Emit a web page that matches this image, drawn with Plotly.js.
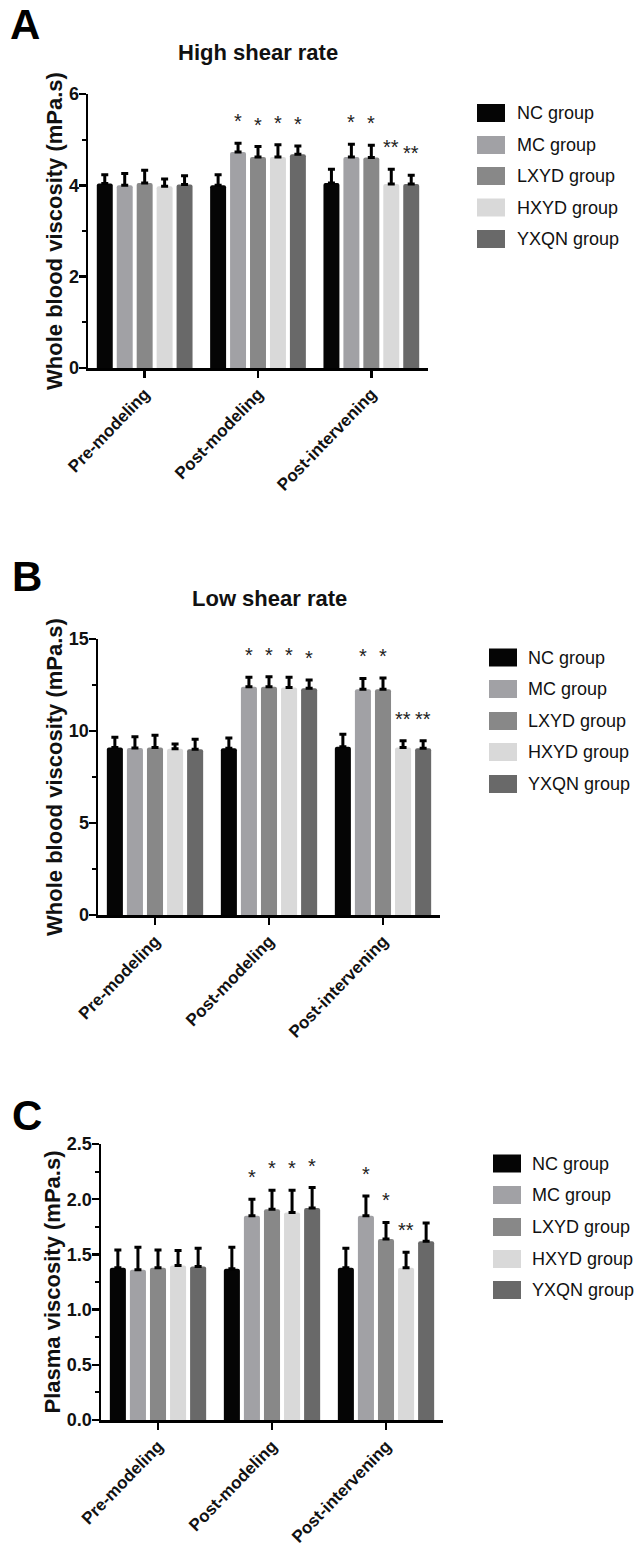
<!DOCTYPE html>
<html>
<head>
<meta charset="utf-8">
<script src="https://cdn.plot.ly/plotly-3.0.1.min.js"></script>
<style>html,body{margin:0;padding:0;background:#fff;}#chart{width:636px;height:1555px;}</style>
</head>
<body>
<div id="chart"></div>
<script>
// ---------- DATA ----------
const categories = ['Pre-modeling', 'Post-modeling', 'Post-intervening'];
const groups = ['NC group', 'MC group', 'LXYD group', 'HXYD group', 'YXQN group'];
const groupColors = ['#050505', '#a1a1a5', '#888888', '#d9d9d9', '#696969'];

const panelLetters = ['A', 'B', 'C'];
const panelTitles = ['High shear rate', 'Low shear rate', ''];
const yTitles = ['Whole blood viscosity (mPa.s)', 'Whole blood viscosity (mPa.s)', 'Plasma viscosity (mPa.s)'];

// rows = groups (NC, MC, LXYD, HXYD, YXQN), columns = categories
const highShearMean = [
  [4.04, 4.00, 4.05],
  [4.00, 4.73, 4.62],
  [4.05, 4.62, 4.61],
  [3.98, 4.62, 4.03],
  [4.02, 4.68, 4.03]
];
const highShearSD = [
  [0.19, 0.23, 0.30],
  [0.26, 0.19, 0.28],
  [0.28, 0.23, 0.27],
  [0.16, 0.27, 0.32],
  [0.19, 0.18, 0.19]
];
const highShearStars = [
  ['', '', ''],
  ['', '*', '*'],
  ['', '*', '*'],
  ['', '*', '**'],
  ['', '*', '**']
];

const lowShearMean = [
  [9.11, 9.06, 9.15],
  [9.08, 12.41, 12.27],
  [9.11, 12.41, 12.27],
  [9.04, 12.37, 9.11],
  [9.01, 12.32, 9.06]
];
const lowShearSD = [
  [0.55, 0.56, 0.67],
  [0.61, 0.51, 0.59],
  [0.66, 0.54, 0.61],
  [0.25, 0.55, 0.36],
  [0.54, 0.45, 0.41]
];
const lowShearStars = [
  ['', '', ''],
  ['', '*', '*'],
  ['', '*', '*'],
  ['', '*', '**'],
  ['', '*', '**']
];

const plasmaMean = [
  [1.38, 1.37, 1.38],
  [1.36, 1.85, 1.85],
  [1.38, 1.91, 1.64],
  [1.40, 1.88, 1.38],
  [1.39, 1.92, 1.62]
];
const plasmaSD = [
  [0.16, 0.195, 0.175],
  [0.205, 0.15, 0.18],
  [0.16, 0.17, 0.15],
  [0.135, 0.20, 0.14],
  [0.165, 0.185, 0.165]
];
const plasmaStars = [
  ['', '', ''],
  ['', '*', '*'],
  ['', '*', '*'],
  ['', '*', '**'],
  ['', '*', '']
];

const yRanges = [[0, 6], [0, 15], [0, 2.5]];
const yDticks = [2, 5, 0.5];
const yMinorDticks = [1, 2.5, 0.25];
const yTickFormats = ['', '', '.1f'];

// ---------- LAYOUT GEOMETRY (pixels) ----------
const W = 636, H = 1555;
const geom = [
  {left: 88, right: 428, top: 94, bottom: 368, titleY: 53, letterX: 25, letterY: 24,
   legX: 477, legTextX: 515, legY: [113, 145, 176, 207.5, 239]},
  {left: 98, right: 440, top: 639, bottom: 915, titleY: 598, letterX: 27, letterY: 576,
   legX: 489, legTextX: 526, legY: [657.5, 689, 721, 752, 784]},
  {left: 101, right: 443, top: 1144, bottom: 1420, titleY: null, letterX: 27, letterY: 1115,
   legX: 493, legTextX: 530, legY: [1163.5, 1195, 1227, 1259, 1290]}
];

const means = [highShearMean, lowShearMean, plasmaMean];
const sds = [highShearSD, lowShearSD, plasmaSD];
const stars = [highShearStars, lowShearStars, plasmaStars];

const BARGAP = 0.12;
const FONT = 'Liberation Sans, Arial, sans-serif';

const px = v => v / W;
const py = v => 1 - v / H;

const traces = [];
const annotations = [];
const shapes = [];
const layout = {
  width: W, height: H,
  margin: {l: 0, r: 0, t: 0, b: 0},
  paper_bgcolor: '#fff', plot_bgcolor: '#fff',
  showlegend: false,
  barmode: 'group',
  bargap: BARGAP,
  bargroupgap: 0.2,
  font: {family: FONT, color: '#111'}
};

for (let p = 0; p < 3; p++) {
  const g = geom[p];
  const xa = p === 0 ? 'x' : 'x' + (p + 1);
  const ya = p === 0 ? 'y' : 'y' + (p + 1);
  const xKey = p === 0 ? 'xaxis' : 'xaxis' + (p + 1);
  const yKey = p === 0 ? 'yaxis' : 'yaxis' + (p + 1);

  for (let s = 0; s < groups.length; s++) {
    traces.push({
      type: 'bar',
      name: groups[s],
      x: categories,
      y: means[p][s],
      xaxis: xa, yaxis: ya,
      marker: {color: groupColors[s], line: {width: 0}, cornerradius: 2},
      error_y: {type: 'data', symmetric: false, array: sds[p][s],
        arrayminus: sds[p][s].map(() => 0), color: '#000', thickness: 3, width: 3.5},
      hoverinfo: 'skip'
    });
    // significance stars
    const slot = (1 - BARGAP) / groups.length;
    for (let c = 0; c < categories.length; c++) {
      const st = stars[p][s][c];
      if (!st) continue;
      annotations.push({
        xref: xa, yref: ya,
        x: c + (s - (groups.length - 1) / 2) * slot,
        y: means[p][s][c] + sds[p][s][c],
        text: st, showarrow: false,
        xanchor: 'center', yanchor: 'bottom', yshift: 9,
        font: {family: FONT, size: 20, color: '#222'}
      });
    }
  }

  layout[xKey] = {
    domain: [px(g.left), px(g.right)],
    anchor: ya,
    type: 'category',
    categoryorder: 'array', categoryarray: categories,
    range: [-0.5, 2.5],
    showline: true, linecolor: '#000', linewidth: 2.5,
    ticks: 'outside', ticklen: 7, tickwidth: 2.5, tickcolor: '#000',
    tickangle: -46,
    tickfont: {family: FONT, size: 17, weight: 700, color: '#111'},
    showgrid: false, zeroline: false, fixedrange: true
  };
  layout[yKey] = {
    domain: [py(g.bottom), py(g.top)],
    anchor: xa,
    range: yRanges[p],
    dtick: yDticks[p], tick0: 0,
    tickformat: yTickFormats[p],
    showline: true, linecolor: '#000', linewidth: 2.5,
    ticks: 'outside', ticklen: 7, tickwidth: 2.5, tickcolor: '#000',
    ticklabelstandoff: -4,
    minor: {dtick: yMinorDticks[p], ticks: 'outside', ticklen: 4, tickwidth: 2, tickcolor: '#000', showgrid: false},
    tickfont: {family: FONT, size: 18, weight: 700, color: '#111'},
    title: {text: yTitles[p], standoff: 0, font: {family: FONT, size: 22, weight: 700, color: '#111'}},
    showgrid: false, zeroline: false, fixedrange: true
  };

  // panel title
  if (panelTitles[p]) {
    annotations.push({
      xref: 'paper', yref: 'paper',
      x: px((g.left + g.right) / 2), y: py(g.titleY),
      text: panelTitles[p], showarrow: false,
      xanchor: 'center', yanchor: 'middle',
      font: {family: FONT, size: 22, weight: 700, color: '#111'}
    });
  }
  // panel letter
  annotations.push({
    xref: 'paper', yref: 'paper',
    x: px(g.letterX), y: py(g.letterY),
    text: panelLetters[p], showarrow: false,
    xanchor: 'center', yanchor: 'middle',
    font: {family: FONT, size: 42, weight: 700, color: '#000'}
  });

  // legend (custom, per panel)
  for (let s = 0; s < groups.length; s++) {
    const cy = g.legY[s];
    shapes.push({
      type: 'rect', xref: 'paper', yref: 'paper',
      x0: px(g.legX), x1: px(g.legX + 28),
      y0: py(cy + 9), y1: py(cy - 9),
      fillcolor: groupColors[s], line: {width: 0}
    });
    annotations.push({
      xref: 'paper', yref: 'paper',
      x: px(g.legTextX), y: py(cy),
      text: groups[s], showarrow: false,
      xanchor: 'left', yanchor: 'middle',
      font: {family: FONT, size: 18, color: '#111'}
    });
  }
}

layout.annotations = annotations;
layout.shapes = shapes;

Plotly.newPlot('chart', traces, layout, {staticPlot: true, displayModeBar: false});
</script>
</body>
</html>
